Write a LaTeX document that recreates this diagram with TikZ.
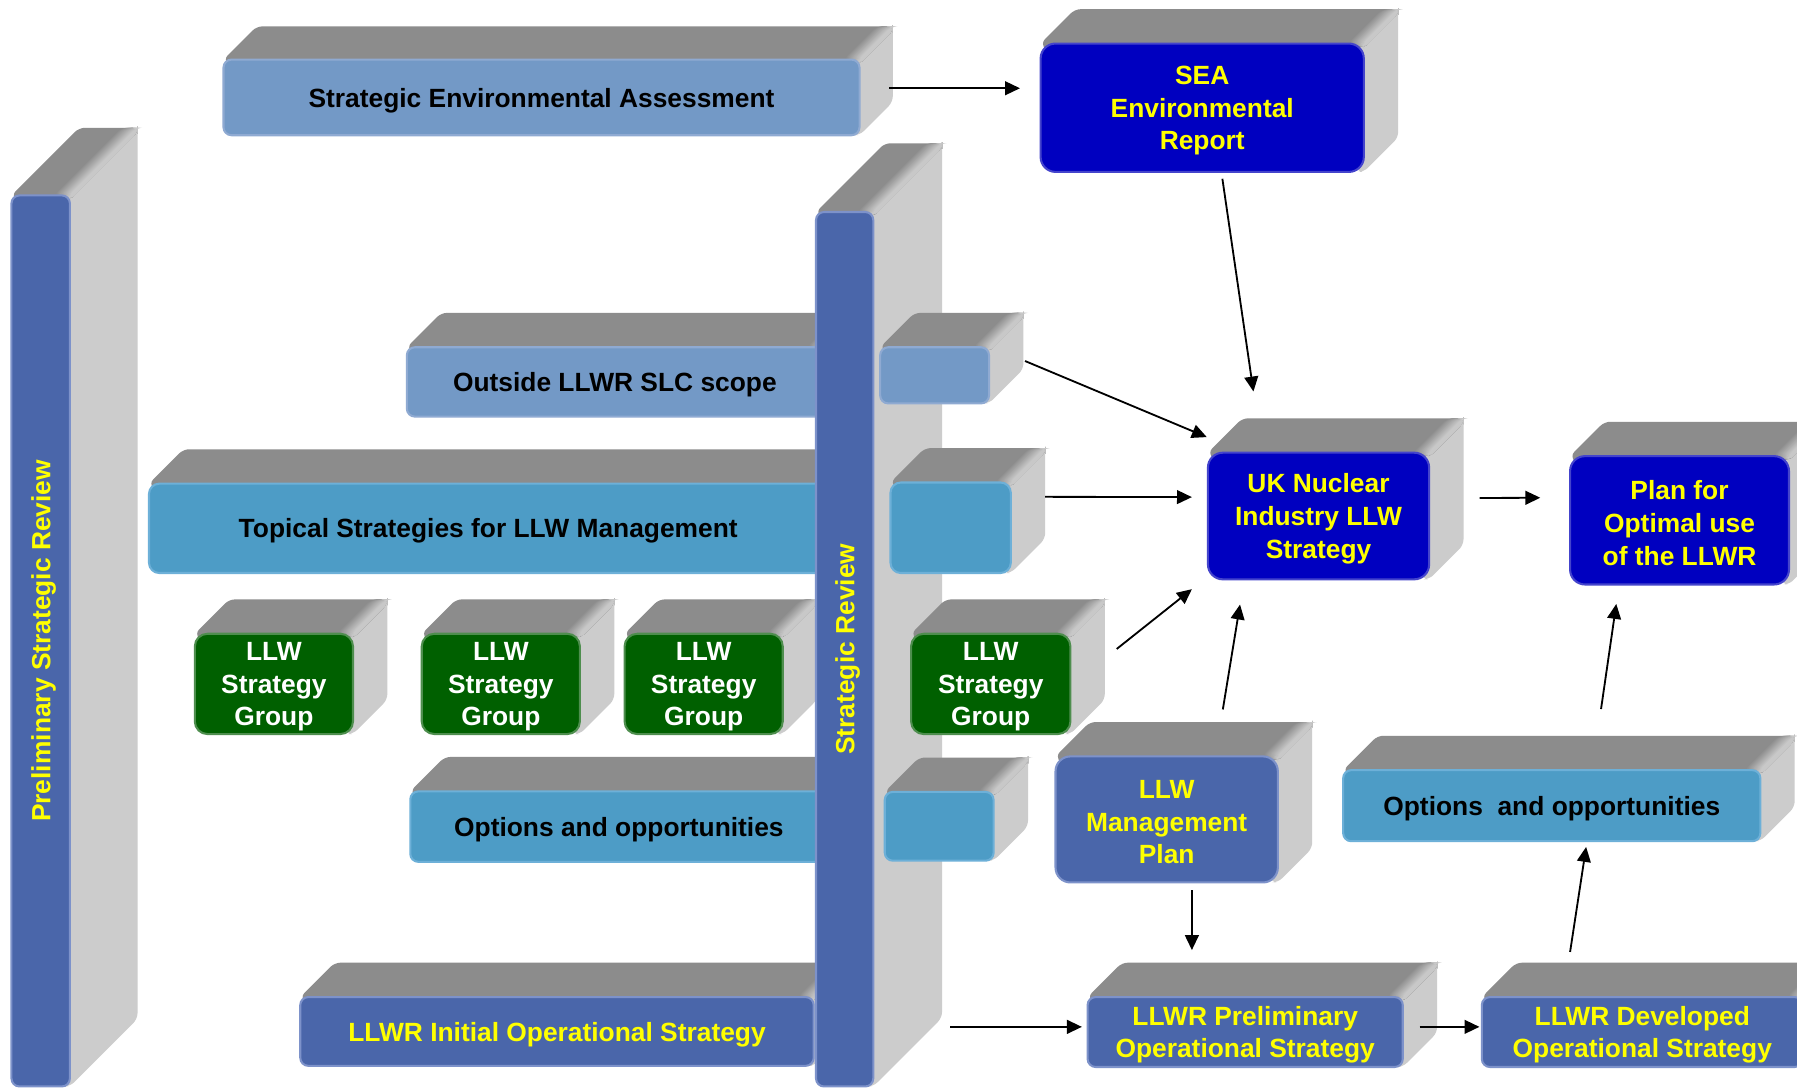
\documentclass[tikz,border=0pt]{standalone}
\usepackage{fontspec}
\setmainfont{Liberation Sans}
\usetikzlibrary{arrows.meta,calc}
\definecolor{topg}{HTML}{8C8C8C}
\definecolor{sideg}{HTML}{CCCCCC}
\definecolor{steel}{HTML}{7399C6}
\definecolor{steelb}{HTML}{8FAAD2}
\definecolor{cyanb}{HTML}{4D9CC6}
\definecolor{cyanbb}{HTML}{6DB0D8}
\definecolor{slate}{HTML}{4A66AA}
\definecolor{slateb}{HTML}{7D92CA}
\definecolor{dblue}{HTML}{0000C0}
\definecolor{dblueb}{HTML}{4444CC}
\definecolor{dgreen}{HTML}{006000}
\definecolor{dgreenb}{HTML}{4E8E4E}
\definecolor{yel}{HTML}{FFFF00}
\tikzset{
  faceround/.style={rounded corners=5pt},
  frontbox/.style={rounded corners=9pt, line width=1.8pt, inner sep=0pt, outer sep=0pt, align=center,
    font=\fontsize{23}{28.5}\selectfont\bfseries},
  steelbox/.style={frontbox, fill=steel, draw=steelb, text=black},
  cyanbox/.style={frontbox, fill=cyanb, draw=cyanbb, text=black},
  slatebox/.style={frontbox, fill=slate, draw=slateb, text=yel},
  bluebox/.style={frontbox, fill=dblue, draw=dblueb, text=yel},
  greenbox/.style={frontbox, fill=dgreen, draw=dgreenb, text=white},
  lbl/.style={draw=none, fill=none},
  arr/.style={line width=1.6pt, -{Triangle[length=13pt,width=12pt]}},
}
% faces of a box: #1 x1, #2 y1, #3 x2, #4 y2, #5 depth
\newcommand\boxfaces[5]{%
  \fill[sideg,faceround] (#3-6,#2) -- (#3+#5,#2-#5) -- (#3+#5,#4-#5) -- (#3,#4) -- (#3-6,#4) -- cycle;
  \fill[topg,faceround] (#1+6,#2+6) -- (#1,#2) -- (#1+#5,#2-#5) -- (#3+#5,#2-#5) -- (#3,#2) -- (#3-6,#2+6) -- cycle;
  \foreach \k in {14,13,...,1}{%
    \pgfmathsetmacro\mix{100*(1-\k/15)}%
    \fill[sideg!\mix!topg,faceround] (#3-\k,#2) -- (#3+#5-\k,#2-#5) -- (#3+#5,#2-#5) -- (#3+#5,#2-#5+4) -- (#3,#2+4) -- cycle;
  }%
}
% #1 name, #2 x1, #3 y1, #4 x2, #5 y2, #6 depth, #7 style, #8 text
\newcommand\cubebox[8]{%
  \boxfaces{#2}{#3}{#4}{#5}{#6}
  \node[#7, minimum width={(#4-#2)*1pt}, minimum height={(#5-#3)*1pt}] (#1) at ({(#2+#4)/2},{(#3+#5)/2}) {};
  \node[#7, lbl, yshift=-2.5pt] (#1t) at (#1.center) {#8};
}
\newcommand\vcubebox[8]{%
  \boxfaces{#2}{#3}{#4}{#5}{#6}
  \node[#7, rotate=90, minimum width={(#5-#3)*1pt}, minimum height={(#4-#2)*1pt}] (#1) at ({(#2+#4)/2},{(#3+#5)/2}) {};
  \node[#7, lbl, rotate=90, yshift=-2.5pt] (#1t) at (#1.center) {#8};
}
\newcommand\piecebox[7]{%
  \boxfaces{#2}{#3}{#4}{#5}{#6}
  \node[#7, minimum width={(#4-#2)*1pt}, minimum height={(#5-#3)*1pt}] (#1) at ({(#2+#4)/2},{(#3+#5)/2}) {};
}
\begin{document}
\begin{tikzpicture}[x=1pt,y=-1pt]
\useasboundingbox (0,0) rectangle (1568,952.8);
\clip (0,0) rectangle (1568,952.8);
\fill[white] (0,0) rectangle (1568,952.8);

\cubebox{seaA}{195}{52}{750}{118}{29}{steelbox, rounded corners=7pt}{Strategic Environmental Assessment}
\cubebox{rep}{908}{38}{1190}{150}{30}{bluebox, rounded corners=13pt}{SEA\\Environmental\\Report}

\vcubebox{psr}{10}{170.5}{61}{948}{59}{slatebox, rounded corners=7pt}{Preliminary Strategic Review}

\cubebox{outL}{355}{303}{718}{363.5}{30}{steelbox, rounded corners=7pt}{Outside LLWR SLC scope}
\cubebox{topL}{130}{422}{722}{500}{30}{cyanbox}{Topical Strategies for LLW Management}
\cubebox{g1}{170}{553}{308}{640.5}{30}{greenbox, rounded corners=11pt}{LLW\\Strategy\\Group}
\cubebox{g2}{368}{553}{506}{640.5}{30}{greenbox, rounded corners=11pt}{LLW\\Strategy\\Group}
\cubebox{g3}{545}{553}{683}{640.5}{30}{greenbox, rounded corners=11pt}{LLW\\Strategy\\Group}
\cubebox{optL}{358}{690.5}{722}{752}{30}{cyanbox, rounded corners=7pt}{Options and opportunities}
\cubebox{init}{262}{870}{710}{930}{30}{slatebox, rounded corners=7pt}{LLWR Initial Operational Strategy}

\vcubebox{sr}{712}{185}{762}{948}{60}{slatebox, rounded corners=7pt}{Strategic Review}

\piecebox{outR}{768}{303}{863}{352}{30}{steelbox, rounded corners=7pt}
\piecebox{topR}{777}{421}{882}{500}{30}{cyanbox}
\cubebox{g4}{795}{553}{934}{640.5}{30}{greenbox, rounded corners=11pt}{LLW\\Strategy\\Group}
\piecebox{optR}{772}{691}{867}{751}{30}{cyanbox, rounded corners=7pt}

\cubebox{uk}{1054}{395}{1247}{505.5}{30}{bluebox, rounded corners=13pt}{UK Nuclear\\Industry LLW\\Strategy}
\cubebox{plan}{1370}{398}{1561}{510}{30}{bluebox, rounded corners=13pt}{Plan for\\Optimal use\\of the LLWR}
\cubebox{mgmt}{921}{660}{1115}{770}{30}{slatebox, rounded corners=13pt}{LLW\\Management\\Plan}
\cubebox{optRt}{1172}{672}{1536}{734}{30}{cyanbox, rounded corners=7pt}{Options~ and opportunities}
\cubebox{prelim}{949}{870}{1224}{931}{30}{slatebox, rounded corners=7pt}{LLWR Preliminary\\Operational Strategy}
\cubebox{dev}{1293}{870}{1573}{931}{30}{slatebox, rounded corners=7pt}{LLWR Developed\\Operational Strategy}

% connectors
\draw[arr] ([shift={(26,-8)}]seaA.east) -- ([shift={(-18,-17)}]rep.west);
\draw[arr] ([shift={(17.6,6)}]rep.south) -- ([shift={(-56.8,-53.4)}]uk.north);
\draw[arr] ([shift={(31.4,-12.5)}]outR.east) -- ([shift={(-1,-13.6)}]uk.north west);
\draw[arr] ([shift={(30,-27)}]topR.east) -- ([shift={(-14,-16.5)}]uk.west);
\draw[arr] ([shift={(40.4,-30.5)}]g4.east) -- ([shift={(-14,8.6)}]uk.south west);
\draw[arr] ([shift={(49,-41)}]mgmt.north) -- ([shift={(-68.5,22)}]uk.south);
\draw[arr] ([shift={(44,-15.7)}]uk.east) -- ([shift={(-26,-19.7)}]plan.west);
\draw[arr] ([shift={(43,-53.3)}]optRt.north) -- ([shift={(-55.2,17)}]plan.south);
\draw[arr] ([shift={(22,7)}]mgmt.south) -- ([shift={(-46.5,-41)}]prelim.north);
\draw[arr] ([shift={(67,-52)}]sr.south west) -- ([shift={(-5,-4.5)}]prelim.west);
\draw[arr] ([shift={(14.6,-4.5)}]prelim.east) -- ([shift={(-2.1,-4.5)}]dev.west);
\draw[arr] ([shift={(-63,-39.4)}]dev.north) -- ([shift={(30,5)}]optRt.south);
\end{tikzpicture}
\end{document}
